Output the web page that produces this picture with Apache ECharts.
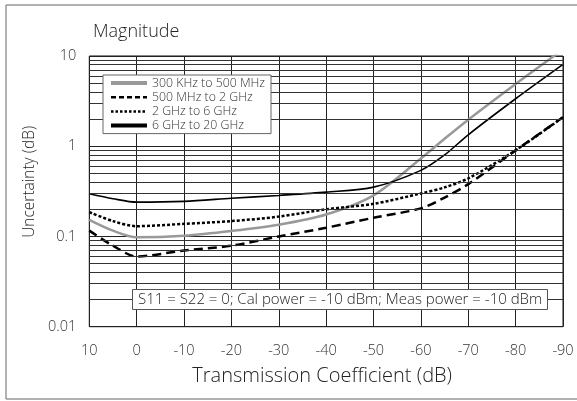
<!DOCTYPE html>
<html><head><meta charset="utf-8">
<script src="https://cdn.jsdelivr.net/npm/echarts@6/dist/echarts.min.js"></script>
<style>html,body{margin:0;padding:0;background:#fff}#c{width:577px;height:401px}</style>
</head><body><div id="c"></div>
<script>
var xs = [10, 5, 0, -10, -20, -30, -40, -50, -60, -65, -70, -80, -90];
var names = ['300 KHz to 500 MHz', '500 MHz to 2 GHz', '2 GHz to 6 GHz', '6 GHz to 20 GHz'];
var grey = [0.153, 0.116, 0.098, 0.102, 0.115, 0.135, 0.175, 0.285, 0.73, 1.21, 1.97, 4.9, 11.8];
var dashed = [0.116, 0.079, 0.06, 0.07, 0.079, 0.1, 0.125, 0.161, 0.205, 0.27, 0.38, 0.9, 2.1];
var dotted = [0.186, 0.148, 0.13, 0.138, 0.148, 0.166, 0.2, 0.23, 0.3, 0.35, 0.44, 0.9, 2.1];
var black = [0.297, 0.262, 0.24, 0.245, 0.265, 0.285, 0.31, 0.352, 0.54, 0.8, 1.34, 3.36, 8.07];
var minorGrid = [0.02,0.03,0.04,0.05,0.06,0.07,0.08,0.09,0.2,0.3,0.4,0.5,0.6,0.7,0.8,0.9,2,3,4,5,6,7,8,9];
var yTicks = [0.01, 0.1, 1, 10];
var note = 'S11 = S22 = 0; Cal power = -10 dBm; Meas power = -10 dBm';

function pairs(v){ return xs.map(function(x,i){ return [x, v[i]]; }); }
var FF = 'Open Sans';
var chart = echarts.init(document.getElementById('c'), null, {renderer:'canvas'});
chart.setOption({
  animation: false,
  backgroundColor: '#fff',
  textStyle: {fontFamily: FF},
  title: [
    {text: 'Magnitude', left: 88, top: 18, textStyle: {fontFamily: FF, fontWeight: 300, fontSize: 18, color: '#222'}},
    {text: note, left: 132, top: 289, zlevel: 1, padding: [3, 6, 3, 6], backgroundColor: '#fff', borderColor: '#555', borderWidth: 1,
     textStyle: {fontFamily: FF, fontWeight: 300, fontSize: 15, color: '#222'}}
  ],
  graphic: [{type: 'rect', shape: {x: 6, y: 5, width: 580, height: 394}, style: {fill: 'none', stroke: '#666', lineWidth: 1}, silent: true}],
  legend: {
    orient: 'vertical', left: 103, top: 75, zlevel: 1, padding: [2, 6, 2, 6], itemGap: 2.2, itemWidth: 36, itemHeight: 12,
    backgroundColor: '#fff', borderColor: '#666', borderWidth: 1,
    itemStyle: {color: 'transparent', borderWidth: 0, opacity: 0},
    textStyle: {fontFamily: FF, fontWeight: 300, fontSize: 12.3, lineHeight: 12, color: '#333'},
    data: [
      {name: names[0], lineStyle: {color: '#999', width: 4, type: 'solid'}},
      {name: names[1], lineStyle: {color: '#000', width: 2.5, type: [5, 3]}},
      {name: names[2], lineStyle: {color: '#000', width: 2.5, type: [2.5, 2]}},
      {name: names[3], lineStyle: {color: '#000', width: 4, type: 'solid'}}
    ]
  },
  grid: {left: 89.3, right: 14, top: 56, bottom: 74.3, show: true, borderColor: '#111', borderWidth: 1},
  xAxis: {
    type: 'value', min: -90, max: 10, interval: 10, inverse: true,
    name: 'Transmission Coefficient (dB)', nameLocation: 'middle', nameGap: 40,
    nameTextStyle: {fontFamily: FF, fontWeight: 300, fontSize: 20, color: '#222', padding: [0, 8, 0, 0]},
    axisLine: {show: false}, axisTick: {show: false},
    axisLabel: {margin: 17, fontFamily: FF, fontWeight: 300, fontSize: 14.5, color: '#333'},
    splitLine: {show: true, lineStyle: {color: '#222', width: 1}}
  },
  yAxis: {
    type: 'log', logBase: 10, min: 0.01, max: 10,
    name: 'Uncertainty (dB)', nameLocation: 'middle', nameGap: 51,
    nameTextStyle: {fontFamily: FF, fontWeight: 300, fontSize: 15.5, color: '#222', padding: [0, 0, 0, 19]},
    axisLine: {show: false}, axisTick: {show: false},
    axisLabel: {margin: 13, fontFamily: FF, fontWeight: 300, fontSize: 14.5, color: '#333',
      formatter: function(v){ var r = yTicks.filter(function(t){ return Math.abs(t - v) / t < 1e-6; }); return r.length ? String(r[0]) : ''; }},
    splitLine: {show: true, lineStyle: {color: '#222', width: 1}}
  },
  series: [
    {name: 'grid', type: 'line', data: [], silent: true, legendHoverLink: false,
     markLine: {silent: true, symbol: 'none', label: {show: false}, animation: false,
       lineStyle: {color: '#333', width: 1, type: 'solid'},
       data: minorGrid.map(function(v){ return {yAxis: v}; })}},
    {name: names[0], type: 'line', data: pairs(grey), smooth: 0.3, symbol: 'none', z: 3,
     lineStyle: {color: '#999', width: 2.5}, itemStyle: {color: '#999'}},
    {name: names[1], type: 'line', data: pairs(dashed), smooth: 0.3, symbol: 'none', z: 4,
     lineStyle: {color: '#000', width: 2.5, type: [9, 5]}, itemStyle: {color: '#000'}},
    {name: names[2], type: 'line', data: pairs(dotted), smooth: 0.3, symbol: 'none', z: 4,
     lineStyle: {color: '#000', width: 2.5, type: [3, 2]}, itemStyle: {color: '#000'}},
    {name: names[3], type: 'line', data: pairs(black), smooth: 0.3, symbol: 'none', z: 4,
     lineStyle: {color: '#000', width: 1.6}, itemStyle: {color: '#000'}}
  ]
});
</script></body></html>
